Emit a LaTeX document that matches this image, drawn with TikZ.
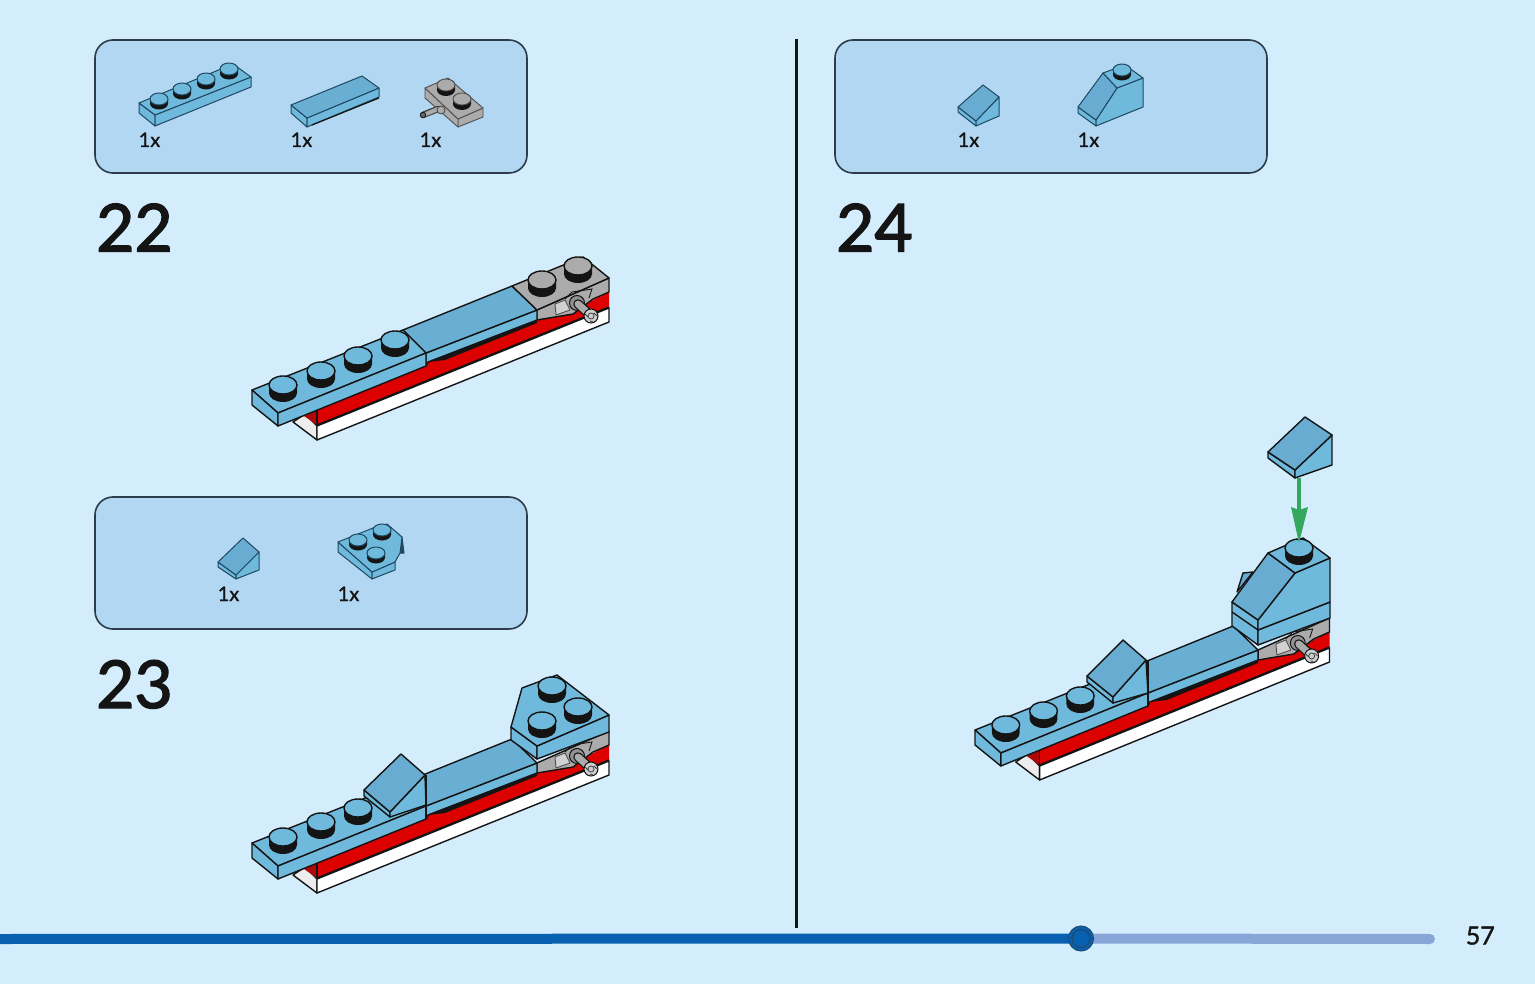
\documentclass[tikz,border=0pt]{standalone}
\usepackage{fontspec}
\setmainfont{Lato}
\newfontfamily\numfont{Lato}[FakeBold=2.2]
\newfontfamily\midfont{Lato}[FakeBold=1.2]
\newfontfamily\pagefont{Lato}[FakeBold=1.4]
\definecolor{pagebg}{HTML}{D4EDFD}
\definecolor{boxbg}{HTML}{B2D7F3}
\definecolor{boxline}{HTML}{2C3C48}
\definecolor{plateC}{HTML}{6FBADC}
\definecolor{tileC}{HTML}{69AFD3}
\definecolor{slopeC}{HTML}{68ADD1}
\definecolor{sideC}{HTML}{6EB9DC}
\definecolor{redC}{HTML}{DD0000}
\definecolor{redD}{HTML}{B00808}
\definecolor{greyC}{HTML}{ABABAB}
\definecolor{whiteD}{HTML}{EDEDED}
\definecolor{inkC}{HTML}{141414}
\definecolor{partline}{HTML}{1F4860}
\definecolor{barD}{HTML}{0860B0}
\definecolor{barL}{HTML}{88A5D8}
\definecolor{arrowC}{HTML}{34A85C}
\tikzset{
  ln/.style={draw=inkC,line width=1.4pt,line join=round},
  pl/.style={draw=partline,line width=1pt,line join=round},
  gl/.style={draw=inkC!75,line width=.9pt,line join=round},
  panel/.style={draw=boxline,fill=boxbg,line width=1.6pt,rounded corners=18pt},
  qty/.style={font=\midfont\fontsize{20}{20}\selectfont,text=inkC,anchor=base west,inner sep=0pt},
  stepnum/.style={font=\numfont\fontsize{66}{66}\selectfont,text=inkC,anchor=base west,inner sep=0pt},
}
% face: style, fill, path
\newcommand\fc[3]{\filldraw[#1,fill=#2] #3 -- cycle;}
% stud: x,y,rx,ry,height,colour,linestyle
\newcommand\stud[7]{%
  \fill[inkC] (#1-#3,#2) -- (#1-#3,#2+#5) arc[start angle=180,end angle=0,x radius=#3,y radius=#4] -- (#1+#3,#2) -- cycle;
  \filldraw[#7,fill=#6] (#1,#2) ellipse[x radius=#3,y radius=#4];}
\newcommand\bigstud[3]{\stud{#1}{#2}{14}{9}{8}{#3}{ln}}
\newcommand\smallstud[3]{\stud{#1}{#2}{9}{6}{4.5}{#3}{pl}}
% shared lower body, in the coordinates of step 22
\newcommand\basebody{%
  \fc{ln}{whiteD}{(293,422) -- (305,414) -- (317,426) -- (317,440)}
  \fc{ln}{white}{(317,426) -- (609,308) -- (609,322) -- (317,440)}
  \fill[redC] (317,425) -- (609,307) -- (609,292) -- (593,300) -- (573,314) -- (537,319) -- (428,362) -- (307,411) -- cycle;
  \draw[ln] (317,425) -- (609,307);
  \fc{draw=none}{redD}{(304,416) -- (317,410) -- (317,425)}
  \draw[ln] (317,410) -- (317,426);
  \fill[inkC] (428,362) -- (537,319) -- (537,323) -- (445,360) -- cycle;
  \fc{ln}{greyC}{(537,310) -- (609,278) -- (609,292) -- (593,299) -- (573,314) -- (537,320)}
  \fc{ln}{sideC}{(426,353) -- (537,310) -- (537,320) -- (428,362) -- (426,366)}
  \fc{ln}{tileC}{(403,330) -- (512,286) -- (537,310) -- (426,353)}
  \fc{ln}{plateC}{(252,390) -- (403,330) -- (426,353) -- (278,413)}
  \fc{ln}{sideC}{(252,390) -- (278,413) -- (278,426) -- (252,405)}
  \fc{ln}{sideC}{(278,413) -- (426,353) -- (426,366) -- (278,426)}
}
\newcommand\pegdetail{%
  \fc{gl}{greyC!55!white}{(555,304) -- (565,300) -- (570,310) -- (556,315)}
  \draw[inkC,line width=.9pt] (565,299) -- (572,292) -- (592,289) -- (589,298);
  \filldraw[draw=inkC,line width=1pt,fill=greyC!85!black] (577,303) circle[radius=7.5];
  \draw[inkC,line width=9.5pt,line cap=round] (578,304) -- (589,314);
  \draw[greyC,line width=7pt,line cap=round] (578,304) -- (589,314);
  \filldraw[draw=inkC,line width=1pt,fill=greyC!60!white] (591,316) circle[radius=7];
  \draw[inkC!80,line width=.8pt] (591,316) circle[radius=3] (585,314) -- (588,317) (594,313) -- (597,316) (590,321) -- (593,322);
}
\begin{document}
\begin{tikzpicture}[x=1pt,y=-1pt]
\useasboundingbox (0,0) rectangle (1535,984);
\fill[pagebg] (0,0) rectangle (1535,984);

% panels
\node[panel,minimum width=432pt,minimum height=133pt,inner sep=0pt] (panelA) at (311,106.5) {};
\node[panel,minimum width=432pt,minimum height=132pt,inner sep=0pt] (panelB) at (311,563) {};
\node[panel,minimum width=432pt,minimum height=133pt,inner sep=0pt] (panelC) at (1051,106.5) {};

% divider
\draw[inkC,line width=3pt] (796,39) -- (796,928);

% panel A parts
\fc{pl}{sideC}{(139,103) -- (155,115) -- (155,126) -- (139,113)}
\fc{pl}{sideC}{(155,115) -- (251,77) -- (251,87) -- (155,126)}
\fc{pl}{plateC}{(139,103) -- (233,64) -- (251,77) -- (155,115)}
\smallstud{159}{99}{plateC}\smallstud{182}{89}{plateC}\smallstud{206}{79}{plateC}\smallstud{229}{69}{plateC}
\fc{pl}{sideC}{(291,105) -- (307,118) -- (307,127) -- (291,113)}
\fc{pl}{sideC}{(307,118) -- (379,88) -- (379,97) -- (307,127)}
\fc{pl}{tileC}{(291,105) -- (362,76) -- (379,88) -- (307,118)}
\draw[inkC,line width=1.2pt] (312,125) -- (379,98);
% grey plate with peg
\fc{gl}{greyC}{(458,119) -- (483,108) -- (483,117) -- (458,127)}
\fc{gl}{greyC}{(425,88) -- (458,119) -- (458,127) -- (425,98)}
\fc{gl}{greyC}{(425,88) -- (448,78) -- (483,108) -- (458,119)}
\stud{446}{85}{9}{6}{5}{greyC}{gl}
\stud{462}{99}{9}{6}{5}{greyC}{gl}
\draw[inkC!80,line width=6.5pt,line cap=round] (424,114.5) -- (438,109);
\draw[greyC,line width=4pt,line cap=round] (426,114) -- (438,109);
\filldraw[draw=inkC,line width=.8pt,fill=greyC!60!black] (423,115) circle[radius=2.8];
\filldraw[draw=inkC!80,line width=.8pt,fill=greyC] (441,110) circle[radius=4];
\node[qty] (qa1) at (138.5,147) {1x};
\node[qty] (qa2) at (290.5,147) {1x};
\node[qty] (qa3) at (419.5,147) {1x};

% panel B parts
\fc{pl}{sideC}{(218,562) -- (236,575) -- (236,579) -- (218,567)}
\fc{pl}{sideC}{(259,552) -- (259,570) -- (236,579) -- (236,575)}
\fc{pl}{slopeC}{(243,538) -- (259,552) -- (236,575) -- (218,562)}
\fc{pl}{partline}{(402,537) -- (404,553) -- (400,553)}
\fc{pl}{sideC}{(338,542) -- (372,572) -- (372,579) -- (338,552)}
\fc{pl}{sideC}{(372,572) -- (395,562) -- (395,570) -- (372,579)}
\fc{pl}{plateC}{(338,542) -- (373,528) -- (387,524) -- (402,537) -- (400,553) -- (395,562) -- (372,572)}
\smallstud{358}{540}{plateC}\smallstud{382}{530}{plateC}\smallstud{376}{553}{plateC}
\node[qty] (qb1) at (217.5,601) {1x};
\node[qty] (qb2) at (337.5,601) {1x};

% panel C parts
\fc{pl}{sideC}{(958,107) -- (976,121) -- (976,126) -- (958,112)}
\fc{pl}{sideC}{(999,97) -- (999,116) -- (976,126) -- (976,121)}
\fc{pl}{slopeC}{(983,85) -- (999,97) -- (976,121) -- (958,107)}
\fc{pl}{sideC}{(1078,107) -- (1096,120) -- (1096,126) -- (1078,113)}
\fc{pl}{sideC}{(1117,88) -- (1143,78) -- (1143,107) -- (1096,126) -- (1096,120)}
\fc{pl}{slopeC}{(1103,73) -- (1117,88) -- (1096,120) -- (1078,107)}
\fc{pl}{plateC}{(1103,73) -- (1125,65) -- (1143,78) -- (1117,88)}
\smallstud{1122}{70}{plateC}
\node[qty] (qc1) at (957.5,147) {1x};
\node[qty] (qc2) at (1077.5,147) {1x};

% step numbers
\node[stepnum] (n22) at (96,251.5) {22};
\node[stepnum] (n23) at (96,708) {23};
\node[stepnum] (n24) at (836,251.5) {24};

% step 22 model
\basebody
\fc{ln}{greyC}{(512,286) -- (583,257) -- (609,278) -- (537,310)}
\bigstud{283}{385}{plateC}\bigstud{321}{371}{plateC}\bigstud{358}{356}{plateC}\bigstud{395}{340}{plateC}
\bigstud{542}{280}{greyC}\bigstud{578}{266}{greyC}
\pegdetail

% step 23 model
\begin{scope}[shift={(0,453)}]
\basebody
\pegdetail
\bigstud{283}{384}{plateC}\bigstud{321}{369}{plateC}\bigstud{358}{355}{plateC}
\end{scope}
\fc{ln}{sideC}{(364,790) -- (390,812) -- (390,817) -- (364,796)}
\fc{ln}{sideC}{(425,775) -- (426,805) -- (390,817) -- (390,812)}
\fc{ln}{slopeC}{(401,754) -- (425,775) -- (390,812) -- (364,790)}
\draw[ln] (426,775) -- (426,819);
\fc{ln}{sideC}{(511,727) -- (537,746) -- (537,759) -- (511,740)}
\fc{ln}{sideC}{(537,746) -- (609,715) -- (609,732) -- (537,759)}
\fc{ln}{plateC}{(511,727) -- (522,688) -- (557,675) -- (609,715) -- (537,746)}
\bigstud{552}{686}{plateC}\bigstud{578}{707}{plateC}\bigstud{542}{721}{plateC}

% step 24 model
\begin{scope}[shift={(724.8,340)},xscale=.993]
\basebody
\pegdetail
\bigstud{283}{385}{plateC}\bigstud{321}{371}{plateC}\bigstud{358}{356}{plateC}
\end{scope}
\fc{ln}{sideC}{(1087,676) -- (1113,697) -- (1113,703) -- (1087,682)}
\fc{ln}{sideC}{(1146,660) -- (1148,693) -- (1113,703) -- (1113,697)}
\fc{ln}{slopeC}{(1123,640) -- (1146,660) -- (1113,697) -- (1087,676)}
\draw[ln] (1148,660) -- (1148,702);
\fc{ln}{slopeC}{(1243,573) -- (1253,572) -- (1237,592)}
\fc{ln}{sideC}{(1232,602) -- (1258,620) -- (1258,645) -- (1232,626)}
\draw[ln] (1232,612) -- (1258,630);
\fc{ln}{sideC}{(1258,630) -- (1330,602) -- (1330,618) -- (1258,645)}
\fc{ln}{sideC}{(1295,573) -- (1330,558) -- (1330,602) -- (1258,630) -- (1258,620)}
\fc{ln}{slopeC}{(1268,553) -- (1295,573) -- (1258,620) -- (1232,602)}
\fc{ln}{plateC}{(1268,553) -- (1303,538) -- (1330,558) -- (1295,573)}
\bigstud{1299}{548}{plateC}

% free slope and arrow
\fc{ln}{sideC}{(1268,452) -- (1295,470) -- (1295,478) -- (1268,458)}
\fc{ln}{sideC}{(1332,435) -- (1332,465) -- (1295,478) -- (1295,470)}
\fc{ln}{slopeC}{(1305,417) -- (1332,435) -- (1295,470) -- (1268,452)}
\coordinate (arrowTop) at (1299,478);
\coordinate (arrowMid) at (1299,510);
\coordinate (arrowTip) at (1299,543);
\draw[arrowC,line width=4pt] (arrowTop) -- (arrowMid);
\fill[arrowC] (arrowTip) -- (1291,507) -- (arrowMid) -- (1308,507) -- cycle;

% progress bar
\coordinate (barStart) at (0,939);
\coordinate (barKnob) at (1081,938.5);
\coordinate (barEnd) at (1430,939);
\draw[barL,line width=10pt,line cap=round] (barKnob) -- (barEnd);
\draw[barD,line width=10pt] (barStart) -- (barKnob);
\node[circle,draw=boxline!60!barD,fill=barD,line width=1pt,minimum size=25pt,inner sep=0pt] (knobOuter) at (barKnob) {};
\node[circle,draw=boxline!60!barD,line width=1.2pt,minimum size=18pt,inner sep=0pt] (knobInner) at (barKnob) {};
\node[font=\pagefont\fontsize{25}{25}\selectfont,text=inkC,anchor=base east,inner sep=0pt] (pageNo) at (1495,944.5) {57};
\end{tikzpicture}
\end{document}
